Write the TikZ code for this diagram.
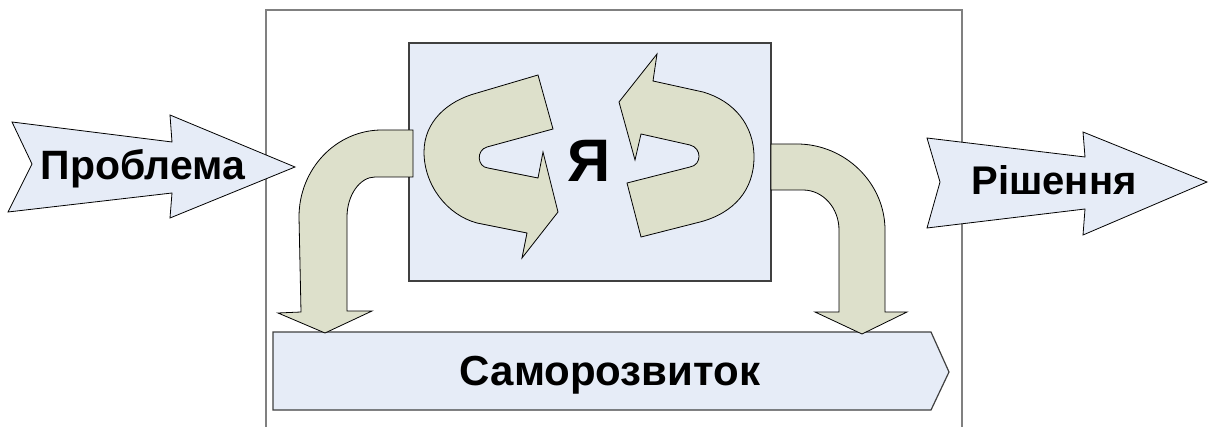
\documentclass[tikz,border=0pt]{standalone}
\usepackage{fontspec}
\setmainfont{Liberation Sans}
\definecolor{paleblue}{RGB}{230,236,247}
\definecolor{paleolive}{RGB}{221,224,203}
\definecolor{framegray}{RGB}{128,128,128}
\definecolor{edgegray}{RGB}{64,64,64}

\begin{document}
\begin{tikzpicture}[x=1pt,y=-1pt]
    \tikzset{every node/.style={font=\bfseries, inner sep=0pt}}
    \tikzset{bluearrow/.style={draw=black, fill=paleblue, line width=0.8pt, line join=miter}}
    \tikzset{bentarrow/.style={draw=black, fill=paleolive, line width=0.8pt, line join=miter}}
    \tikzset{panel/.style={draw=edgegray, fill=paleblue, line width=1.2pt}}
    \useasboundingbox (0,0) rectangle (1209,427);
    \draw[framegray, line width=1.4pt] (266,427) -- (266,10) -- (962,10) -- (962,427);
    \draw[panel] (273,332) -- (931,332) -- (949,372) -- (931,410) -- (273,410) -- cycle;
    \draw[panel] (409,43) rectangle (771,281);
    \draw[bluearrow] (12,122) -- (172,142) -- (170,115) -- (295,167) -- (170,218)
        -- (172,193) -- (8,212) -- (32,164) -- cycle;
    \draw[bluearrow] (927,138) -- (1085,157) -- (1083,132) -- (1207,182) -- (1083,235)
        -- (1085,209) -- (927,228) -- (940,182) -- cycle;
    \draw[bentarrow] (413,130) -- (382,130) .. controls (336,130) and (299,169) .. (299,217)
        -- (301,312) -- (278,313) -- (325,333) -- (372,311) -- (347,311) -- (347,217)
        .. controls (347,195) and (360,177) .. (375,177) -- (413,177) -- cycle;
    \draw[bentarrow] (771,144) -- (797,144) .. controls (845,144) and (885,183) .. (885,230)
        -- (885,312) -- (907,312) -- (862,334) -- (815,312) -- (839,312) -- (839,230)
        .. controls (839,208) and (823,190) .. (803,190) -- (771,190) -- cycle;
    \draw[bentarrow] (538,75) -- (553,129) -- (487,147) .. controls (476,150) and (477,167) .. (488,168)
        -- (538,178) -- (543,152) -- (558,212) -- (522,258) -- (527,233) -- (477,223)
        .. controls (447,215) and (424,185) .. (424,152) .. controls (424,122) and (447,101) .. (477,93)
        -- cycle;
    \draw[bentarrow] (657,54) -- (619,102) -- (635,160) -- (641,134) -- (690,145)
        .. controls (702,148) and (702,165) .. (690,167) -- (627,183) -- (641,237) -- (700,222)
        .. controls (734,213) and (754,190) .. (754,157) .. controls (754,125) and (734,101) .. (703,92)
        -- (653,81) -- cycle;
    \node[anchor=base] (problema) at (143,180) {\fontsize{41}{41}\selectfont Проблема};
    \node[anchor=base] (rishennya) at (1054,195) {\fontsize{40}{40}\selectfont Рішення};
    \node[anchor=base] (samorozvytok) at (610,385) {\fontsize{42}{42}\selectfont Саморозвиток};
    \node[anchor=base] (ya) at (589,182) {\fontsize{60}{60}\selectfont Я};
\end{tikzpicture}
\end{document}
